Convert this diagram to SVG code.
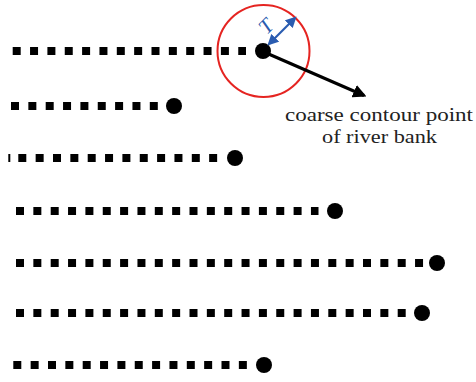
<svg xmlns="http://www.w3.org/2000/svg" width="476" height="382" viewBox="0 0 476 382">
  <style>
    .dash { stroke: #000; stroke-width: 8; stroke-dasharray: 8 9.35; fill: none; }
    .end { fill: #000; }
    .label { font-family: "Liberation Serif", "DejaVu Serif", serif; font-size: 19px; fill: #222; }
  </style>
  <defs>
    <marker id="headBlack" viewBox="0 0 10 10" refX="8" refY="5" markerWidth="4.5" markerHeight="4.5" markerUnits="strokeWidth" orient="auto">
      <path d="M0,0 L10,5 L0,10 Z" fill="#000"/>
    </marker>
    <marker id="headBlue" viewBox="0 0 10 10" refX="8" refY="5" markerWidth="5" markerHeight="5" markerUnits="strokeWidth" orient="auto-start-reverse">
      <path d="M0,0 L10,5 L0,10 Z" fill="#2a5cb0"/>
    </marker>
  </defs>

  <rect width="476" height="382" fill="#fff"/>

  <!-- contour rows: square samples ending in a contour point -->
  <g id="row1">
    <line class="dash" x1="12.7" y1="51" x2="246" y2="51"/>
    <circle class="end" cx="263" cy="51" r="8"/>
  </g>
  <g id="row2">
    <line class="dash" x1="11" y1="106" x2="158" y2="106"/>
    <circle class="end" cx="174" cy="106" r="8"/>
  </g>
  <g id="row3">
    <rect x="8.3" y="154" width="2" height="8" fill="#000"/>
    <line class="dash" x1="18.3" y1="158" x2="218.5" y2="158"/>
    <circle class="end" cx="235" cy="158" r="8"/>
  </g>
  <g id="row4">
    <line class="dash" x1="16" y1="211" x2="318.5" y2="211"/>
    <circle class="end" cx="335" cy="211" r="8"/>
  </g>
  <g id="row5">
    <line class="dash" x1="16" y1="263" x2="423.5" y2="263"/>
    <circle class="end" cx="437" cy="263" r="8"/>
  </g>
  <g id="row6">
    <line class="dash" x1="16" y1="313" x2="406" y2="313"/>
    <circle class="end" cx="422" cy="313" r="8"/>
  </g>
  <g id="row7">
    <line class="dash" x1="13.3" y1="365" x2="247.5" y2="365"/>
    <circle class="end" cx="264" cy="365" r="8"/>
  </g>

  <!-- search radius around the selected point -->
  <g id="radius">
    <circle cx="263.5" cy="51" r="46" fill="none" stroke="#e52421" stroke-width="2"/>
    <line x1="269" y1="44" x2="295" y2="18" stroke="#2a5cb0" stroke-width="2.2" marker-start="url(#headBlue)" marker-end="url(#headBlue)"/>
    <text x="0" y="0" transform="translate(271,31) rotate(-45)" font-family="Liberation Serif, serif" font-style="italic" font-size="21" fill="#2a5cb0" text-anchor="middle">T</text>
  </g>

  <!-- callout -->
  <g id="connectors">
    <line x1="264" y1="52" x2="364" y2="95.5" stroke="#000" stroke-width="3" marker-end="url(#headBlack)"/>
  </g>
  <g id="callout">
    <text class="label" x="285" y="121" textLength="188" lengthAdjust="spacingAndGlyphs">coarse contour point</text>
    <text class="label" x="322" y="143" textLength="115" lengthAdjust="spacingAndGlyphs">of river bank</text>
  </g>
</svg>
